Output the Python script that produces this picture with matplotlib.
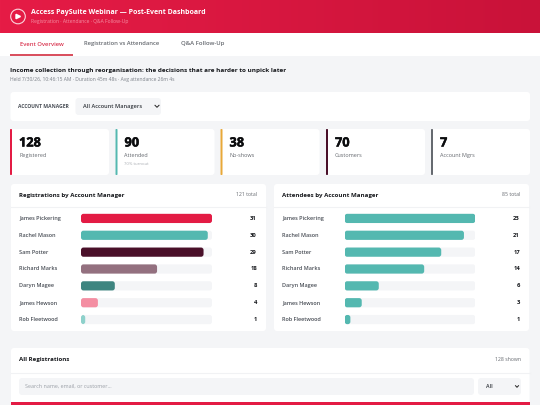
import numpy as np
import matplotlib
matplotlib.use('Agg')
import matplotlib.pyplot as plt
import matplotlib.patheffects as pe
from matplotlib.patches import FancyBboxPatch, Rectangle, Circle

plt.rcParams['font.family'] = ['Open Sans', 'Noto Sans', 'DejaVu Sans']

managers = ['James Pickering', 'Rachel Mason', 'Sam Potter', 'Richard Marks',
            'Daryn Magee', 'James Hewson', 'Rob Fleetwood']
registrations = [31, 30, 29, 18, 8, 4, 1]
attendees = [23, 21, 17, 14, 6, 3, 1]
reg_colors = ['#e31b44', '#54b8b0', '#4a1029', '#93707f', '#3e8580', '#f48ea2', '#8ed1cb']
att_colors = ['#54b8b0'] * 7

kpi_values = ['128', '90', '38', '70', '7']
kpi_labels = ['Registered', 'Attended', 'No-shows', 'Customers', 'Account Mgrs']
kpi_colors = ['#e31b44', '#54b8b0', '#e8a838', '#4a1029', '#666a70']
kpi_left = [10, 115.5, 220.5, 326, 431]

W, H = 540, 405
BG = '#f4f5f7'

fig = plt.figure(figsize=(5.4, 4.05), dpi=100, facecolor=BG)
page = fig.add_axes([0, 0, 1, 1])
page.set_xlim(0, W)
page.set_ylim(H, 0)
page.axis('off')


def card(x0, y0, x1, y1, color='white', r=3, z=1):
    page.add_patch(FancyBboxPatch((x0, y0), x1 - x0, y1 - y0,
                                  boxstyle=f'round,pad=0,rounding_size={r}',
                                  fc=color, ec='none', zorder=z))


def label(x, y, s, size=4.2, color='#4a4f57', weight='normal', ha='left'):
    return page.text(x, y, s, fontsize=size, color=color, fontweight=weight, ha=ha, va='center', zorder=5)


# header
grad = np.linspace(0, 1, 256).reshape(1, -1)
cmap = matplotlib.colors.LinearSegmentedColormap.from_list('hdr', ['#e61c46', '#c91239'])
page.imshow(grad, extent=(0, W, 33, 0), aspect='auto', cmap=cmap, zorder=1)
page.set_xlim(0, W)
page.set_ylim(H, 0)
page.add_patch(Circle((18, 16.5), 7.3, fc='none', ec='#fbd5dc', lw=0.8, zorder=3))
page.fill([16, 16, 20.5], [14.3, 18.7, 16.5], color='white', zorder=3)
label(31, 12, 'Access PaySuite Webinar — Post-Event Dashboard', 5.0, 'white', 'bold')
label(31, 22, 'Registration · Attendance · Q&A Follow-Up', 3.6, '#f58ea3')

# tabs
page.add_patch(Rectangle((0, 33), W, 22.5, fc='white', ec='none', zorder=1))
page.add_patch(Rectangle((10, 54), 63, 1.5, fc='#d9505f', ec='none', zorder=2))
label(19.5, 44, 'Event Overview', 4.2, '#d9344f', 'semibold')
label(84, 44, 'Registration vs Attendance', 4.2, '#666a70', 'semibold')
label(181, 44, 'Q&A Follow-Up', 4.3, '#666a70', 'semibold')

# event title
label(10, 70.5, 'Income collection through reorganisation: the decisions that are harder to unpick later',
      4.57, '#16181c', 'bold')
label(10, 80, 'Held 7/30/26, 10:46:15 AM · Duration 45m 48s · Avg attendance 26m 4s', 3.65, '#7b8088')

# filter
card(10.5, 92, 530, 121)
label(18, 106, 'ACCOUNT MANAGER', 3.65, '#4a4f57', 'bold')
card(75.5, 98, 161, 115, BG, z=2)
label(83, 106.5, 'All Account Managers', 4.1, '#33373d', 'semibold')
page.plot([155, 157, 159], [105.3, 107.3, 105.3], color='#222', lw=0.7, zorder=5)

# kpi cards
for x, val, lab, col in zip(kpi_left, kpi_values, kpi_labels, kpi_colors):
    card(x, 129, x + 99, 175)
    card(x, 129, x + 2, 175, col, r=0.8, z=2)
    t = label(x + 9, 143, val, 9.2, '#0b0c0e', 'bold')
    t.set_path_effects([pe.withStroke(linewidth=0.35, foreground='#0b0c0e')])
    label(x + 9, 155.5, lab, 4.0, '#666a70')
label(kpi_left[1] + 9, 163.7, '70% turnout', 3.1, '#a9adb3')


def bar_panel(x0, x1, title, total, values, colors, track0, track1):
    card(x0, 184, x1, 331)
    page.plot([x0, x1], [206.5, 206.5], color='#f1f2f4', lw=0.8, zorder=2)
    label(x0 + 8, 195, title, 4.4, '#16181c', 'bold')
    label(x1 - 8.5, 194.5, total, 3.7, '#666a70', ha='right')
    ax = fig.add_axes([track0 / W, 1 - 328 / H, (track1 - track0) / W, (328 - 210) / H])
    ax.set_xlim(0, max(values))
    ax.set_ylim(len(values) - 0.5, -0.5)
    ax.axis('off')
    ax.patch.set_alpha(0)
    xs = max(values) / (track1 - track0)
    ys = (len(values)) / (328 - 210)
    h = 9.2 * ys
    for i, (name, v, c) in enumerate(zip(managers, values, colors)):
        for w, col, z in [(max(values), BG, 1), (v, c, 2)]:
            ax.add_patch(FancyBboxPatch((0, i - h / 2), w, h,
                                        boxstyle=f'round,pad=0,rounding_size={2.5 * xs}',
                                        mutation_aspect=ys / xs, fc=col, ec='none', zorder=z))
        ypx = 210 + (i + 0.5) * (328 - 210) / len(values)
        label(x0 + 8, ypx, name, 4.0, '#4a4f57', 'semibold')
        label(x1 - 9, ypx, str(v), 4.2, '#16181c', 'bold', ha='right')


bar_panel(11, 266, 'Registrations by Account Manager', '121 total', registrations, reg_colors, 81, 212)
bar_panel(274, 529, 'Attendees by Account Manager', '85 total', attendees, att_colors, 344.7, 475.3)

# table panel
card(11, 348, 529.5, 412)
page.plot([11, 529.5], [372.5, 372.5], color='#f1f2f4', lw=0.8, zorder=2)
label(19, 360, 'All Registrations', 4.4, '#16181c', 'bold')
label(521, 359.5, '128 shown', 3.7, '#666a70', ha='right')
card(19, 378, 474, 395, BG, z=2)
label(25, 386.5, 'Search name, email, or customer...', 3.9, '#9a9fa6')
card(478, 378, 521, 395, BG, z=2)
label(486, 386.5, 'All', 3.9, '#33373d', 'semibold')
page.plot([515.5, 517, 518.5], [385.7, 387.3, 385.7], color='#222', lw=0.7, zorder=5)
page.add_patch(Rectangle((11, 402), 518.5, 3, fc='#e31b44', ec='none', zorder=3))

fig.savefig('out.png', dpi=100, facecolor=BG)
